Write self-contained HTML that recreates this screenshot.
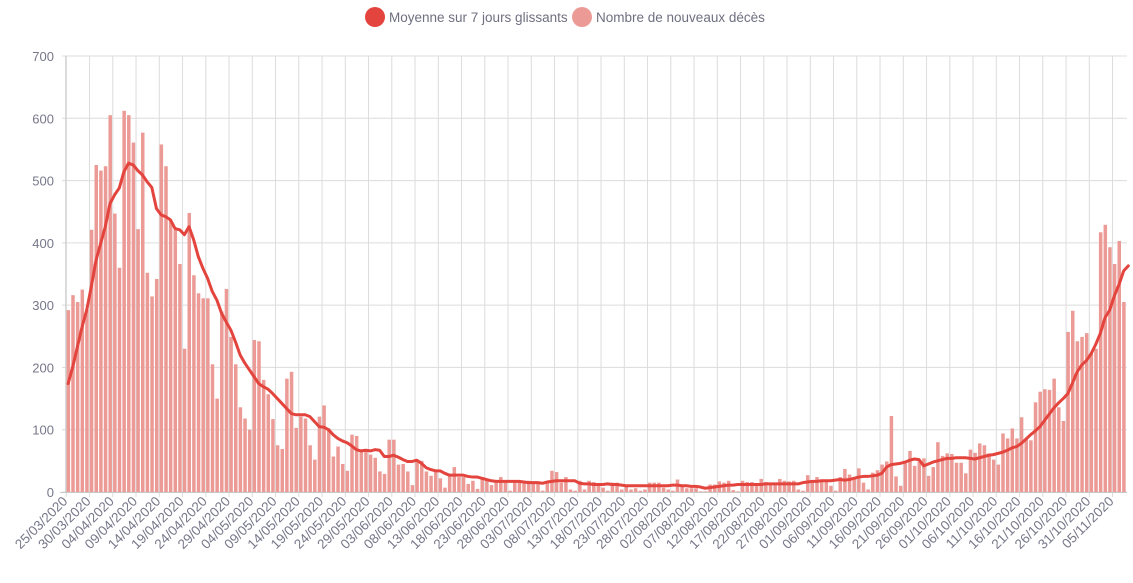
<!DOCTYPE html>
<html><head><meta charset="utf-8"><style>
body{margin:0;background:#fff;width:1133px;height:578px;overflow:hidden;font-family:"Liberation Sans",sans-serif}
</style></head><body>
<svg id="chart" width="1133" height="578" xmlns="http://www.w3.org/2000/svg">
<g id="legend">
<g><circle cx="375" cy="17" r="10" fill="#e3443d"/><text x="389" y="22" font-size="13.5" fill="#6f6f80">Moyenne sur 7 jours glissants</text></g>
<g><circle cx="582" cy="17" r="10" fill="#eb9a95"/><text x="596" y="22" font-size="13.5" fill="#6f6f80">Nombre de nouveaux décès</text></g>
</g>
<g id="grid"></g><g id="bars"></g><g id="line"></g><g id="axes"></g>
</svg>
<script>
const deaths=[292,316,305,325,293,421,525,516,523,605,447,360,612,605,561,422,577,352,314,342,558,523,437,421,366,230,448,348,319,311,311,205,150,290,326,249,205,136,118,100,244,242,180,157,117,75,69,182,193,103,121,118,75,52,121,139,102,57,73,45,34,92,90,68,68,60,55,33,29,84,84,44,45,33,11,51,50,33,26,32,22,7,27,40,24,24,13,18,5,24,19,11,15,24,15,2,18,18,18,18,15,14,2,15,34,32,15,24,4,2,18,4,18,16,14,7,2,15,15,4,11,4,6,2,4,15,15,15,7,4,2,20,11,6,6,6,1,1,12,12,17,15,18,3,1,18,16,16,14,21,16,15,14,21,18,17,18,4,2,27,17,24,17,17,10,2,24,37,28,21,38,15,4,31,35,44,49,122,25,10,46,66,42,49,54,26,40,80,58,62,61,47,47,30,68,63,78,75,62,52,44,94,86,102,86,120,85,83,144,161,165,164,182,136,114,257,291,242,249,255,223,230,417,429,393,366,403,305];
const avg=[174,201,233,265,292,330,372,399,426,463,477,488,514,528,525,516,509,498,489,455,445,442,437,423,421,413,426,405,378,359,343,322,308,287,273,260,241,220,207,196,185,174,169,165,158,150,142,134,126,124,124,124,121,113,105,104,100,92,86,82,79,74,68,66,67,66,68,67,57,57,59,56,52,49,49,51,46,39,36,34,34,30,27,27,27,27,25,24,24,22,20,18,17,17,17,17,17,17,16,15,15,15,14,16,17,18,18,18,18,18,14,13,13,12,12,12,13,12,12,11,10,10,10,10,10,10,10,10,10,10,11,11,10,10,9,9,8,6,7,8,9,10,11,11,12,12,12,12,12,12,13,13,13,13,13,13,13,13,15,16,17,17,18,18,18,19,20,19,20,22,24,25,25,26,27,30,40,44,45,46,48,51,53,52,42,45,48,50,52,54,54,55,55,55,54,53,55,57,59,60,62,64,67,71,73,78,85,92,98,105,115,125,135,143,150,158,175,193,204,211,222,237,255,280,292,315,333,355,363];
const yTicks=[0,100,200,300,400,500,600,700];
const startDate=[2020,2,25];
const NS="http://www.w3.org/2000/svg";
const X0=66.3,STEP=4.65,Y0=492,YSCALE=436/700;
const xs=i=>X0+STEP*i, ys=v=>Y0-v*YSCALE;
function mk(t,a,p){const e=document.createElementNS(NS,t);for(const k in a)e.setAttribute(k,a[k]);p.appendChild(e);return e;}
const grid=document.getElementById('grid'),bars=document.getElementById('bars'),line=document.getElementById('line'),axes=document.getElementById('axes');
yTicks.forEach(v=>{
 const g=mk('line',{x1:62,x2:1127,y1:ys(v),y2:ys(v),stroke:'#dcdcdc','stroke-width':1},grid);
 
 
 const t=mk('text',{x:54,y:ys(v)+5,'text-anchor':'end','font-size':13,fill:'#77778a'},axes);
 t.textContent=v;
 
 
});
const n=deaths.length;
for(let i=0;i<n;i+=5){
 const x=xs(i);
 const g=mk('line',{x1:x,x2:x,y1:ys(700),y2:Y0+5,stroke:'#dcdcdc','stroke-width':1},grid);
 
 
 const d=new Date(startDate[0],startDate[1],startDate[2]+i);
 const lab=String(d.getDate()).padStart(2,'0')+'/'+String(d.getMonth()+1).padStart(2,'0')+'/'+d.getFullYear();
 const t=mk('text',{x:x+2,y:Y0+10,'text-anchor':'end','font-size':13.5,fill:'#77778a',transform:`rotate(-45 ${x+2} ${Y0+10})`},axes);
 t.textContent=lab;
 
 
}
mk('line',{x1:X0-0.5,x2:X0-0.5,y1:ys(700),y2:Y0,stroke:'#c8c8c8','stroke-width':1},axes);
mk('line',{x1:60,x2:1127,y1:Y0+0.5,y2:Y0+0.5,stroke:'#c8c8c8','stroke-width':1},axes);
deaths.forEach((v,i)=>{
 const r=mk('rect',{x:xs(i)+0.3,y:ys(v),width:3.5,height:v*YSCALE,fill:'#eb9a95'},bars);
 
 
});
let dstr='';
avg.forEach((v,i)=>{dstr+=(i?'L':'M')+(xs(i)+1.8).toFixed(2)+','+ys(v).toFixed(2);});
const p=mk('path',{d:dstr,fill:'none',stroke:'#e3443d','stroke-width':3,'stroke-linejoin':'round','stroke-linecap':'round'},line);


</script>
</body></html>
